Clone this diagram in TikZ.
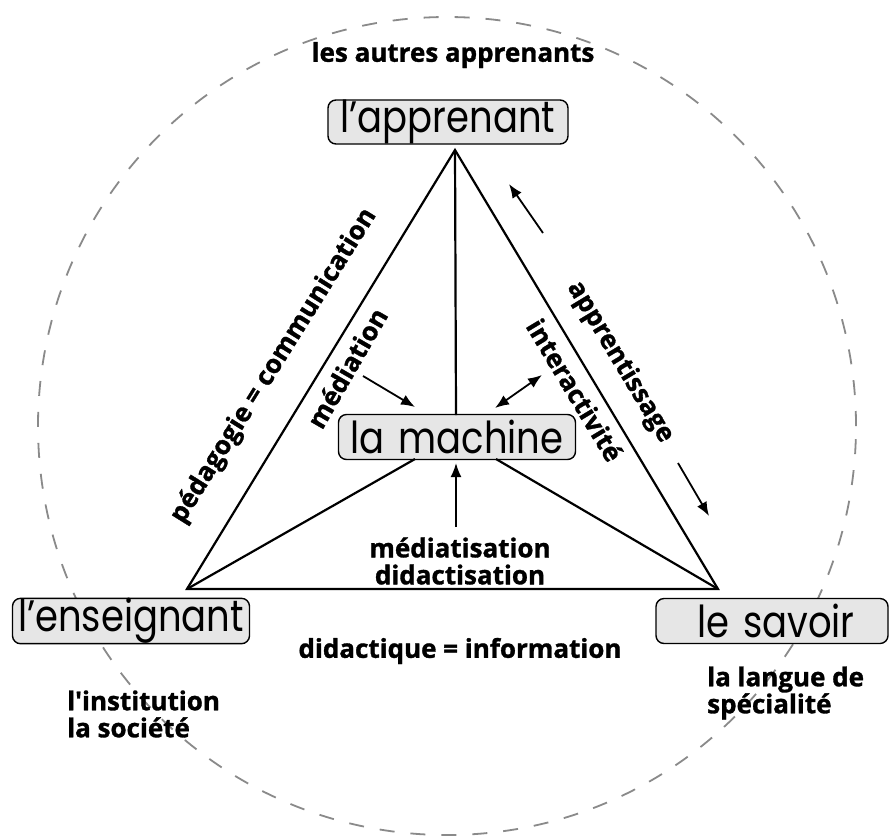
\documentclass[tikz,border=0pt]{standalone}
\usepackage{fontspec}
\usetikzlibrary{arrows.meta}
\newfontfamily\boxfont[FakeStretch=0.84]{Poppins}
\newfontfamily\lblfont[FakeBold=1.2]{Open Sans Bold}
\definecolor{boxgray}{HTML}{E6E6E6}
\definecolor{circgray}{HTML}{8A8A8A}
\begin{document}
\begin{tikzpicture}[x=1pt,y=-1pt,
  boxlbl/.style={draw=black, line width=1.4pt, fill=boxgray, rounded corners=8pt,
     inner sep=0pt, font=\boxfont\fontsize{44}{48}\selectfont},
  lbl/.style={inner sep=0pt, font=\lblfont\fontsize{26}{27}\selectfont},
  edge/.style={line width=2.2pt, line join=miter},
  arr/.style={line width=1.8pt, -{Latex[length=14pt,width=11pt]}},
  darr/.style={line width=1.8pt, {Latex[length=14pt,width=11pt]}-{Latex[length=14pt,width=11pt]}}
]
\useasboundingbox (0,0) rectangle (890,836);
\fill[white] (0,0) rectangle (890,836);
% outer dashed circle
\draw[circgray, line width=1.8pt, dash pattern=on 15pt off 16pt] (447,426) circle[radius=409pt];

% boxes
\node[boxlbl, minimum width=240pt, minimum height=44pt] (appr) at (448,122) {l’apprenant};
\node[boxlbl, minimum width=237pt, minimum height=45pt] (mach) at (457,437) {la\hspace{14pt}machine};
\node[boxlbl, minimum width=237pt, minimum height=43pt] (ens) at (131,621) {l’enseignant};
\node[boxlbl, minimum width=232pt, minimum height=45pt] (sav) at (772,621) {\hspace{8pt}le\hspace{14pt}savoir};

% triangle vertices
\coordinate (A) at (455,150);
\coordinate (L) at (187,589);
\coordinate (R) at (718,589);
\coordinate (mL) at (415,459);
\coordinate (mR) at (496,459);
\coordinate (mT) at (456,415);

\draw[edge] (A) -- (L) -- (R) -- cycle;
\draw[edge] (A) -- (mT);
\draw[edge] (mL) -- (L);
\draw[edge] (mR) -- (R);

% arrows
\coordinate (a1s) at (363,376); \coordinate (a1e) at (415,407);
\draw[arr] (a1s) -- (a1e);
\coordinate (a2s) at (495,408); \coordinate (a2e) at (542,375);
\draw[darr] (a2s) -- (a2e);
\coordinate (a3s) at (456,527); \coordinate (a3e) at (456,463);
\draw[arr] (a3s) -- (a3e);
\coordinate (a4s) at (543,233); \coordinate (a4e) at (509,184);
\draw[arr] (a4s) -- (a4e);
\coordinate (a5s) at (678,463); \coordinate (a5e) at (709,516);
\draw[arr] (a5s) -- (a5e);

% labels
\node[lbl] (autres) at (453,55) {les autres apprenants};
\node[lbl, rotate=58] (peda) at (274,366) {pédagogie = communication};
\node[lbl, rotate=60] (medi) at (347,368) {médiation};
\node[lbl, rotate=-59] (appre) at (620,362) {apprentissage};
\node[lbl, rotate=-59] (inter) at (575,390) {interactivité};
\node[lbl, align=center] (medt) at (460,561) {médiatisation\\didactisation};
\node[lbl] (didac) at (460,651) {didactique = information};
\node[lbl, align=left, anchor=west] (inst) at (67,714) {l\textquotesingle institution\\la société};
\node[lbl, align=left, anchor=west] (lang) at (707,693) {la langue de\\spécialité};
\end{tikzpicture}
\end{document}
